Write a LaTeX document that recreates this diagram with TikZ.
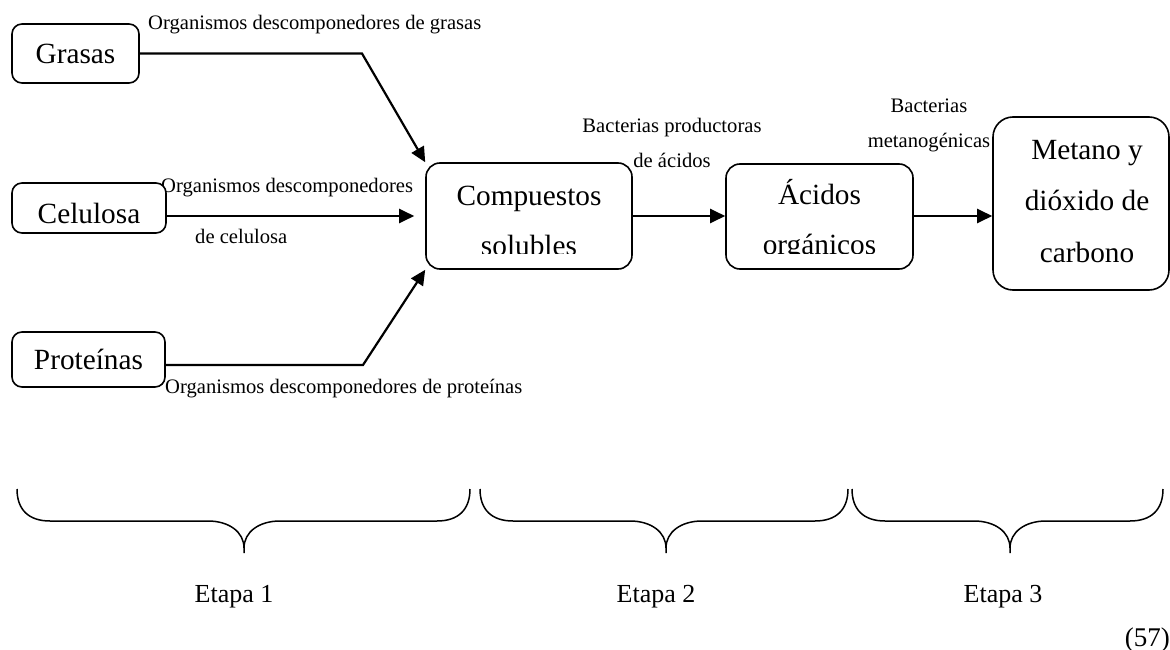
\documentclass[tikz,border=0pt]{standalone}
\usepackage{fontspec}
\setmainfont{Liberation Serif}
\usetikzlibrary{arrows.meta}

\begin{document}
\begin{tikzpicture}[x=1pt, y=-1pt, >={Triangle[length=15pt,width=14pt]},
    caja/.style={draw, fill=white, line width=1.6pt, rounded corners=10pt, inner sep=0pt, font=\fontsize{29.3pt}{50pt}\selectfont},
    textocaja/.style={inner sep=0pt, align=center, font=\fontsize{29.3pt}{50pt}\selectfont},
    etiqueta/.style={inner sep=0pt, align=center, font=\fontsize{20.6pt}{35pt}\selectfont},
    flecha/.style={->, line width=2.2pt},
    llavelinea/.style={line width=1.5pt}]
    \useasboundingbox (0,0) rectangle (1170,650);

    % rotulos de las flechas (debajo de las cajas)
    \node[etiqueta, anchor=base west] (lgrasas) at (148,30) {Organismos descomponedores de grasas};
    \node[etiqueta, anchor=base west] (lcel1) at (161,193) {Organismos descomponedores};
    \node[etiqueta, anchor=base west] (lcel2) at (195,243) {de celulosa};
    \node[etiqueta, anchor=base west] (lprot) at (165,393) {Organismos descomponedores de proteínas};
    \node[etiqueta] (lacid) at (672,142.5) {Bacterias productoras\\de ácidos};
    \node[etiqueta] (lmet) at (929,125) {Bacterias\\metanogénicas};

    % sustratos
    \node[caja, minimum width=127pt, minimum height=59pt] (grasas) at (75.5,53.5) {Grasas};
    \node[caja, minimum width=154pt, minimum height=50pt, text height=30pt, text depth=0pt] (celulosa) at (89,208) {Celulosa};
    \node[caja, minimum width=153pt, minimum height=55pt] (proteinas) at (88.5,359.5) {Proteínas};

    % productos intermedios y final
    \node[caja, rounded corners=14pt, minimum width=206pt, minimum height=106pt] (comp) at (529,216) {};
    \node[caja, rounded corners=14pt, minimum width=187pt, minimum height=105pt] (acidos) at (819.5,216.5) {};
    \node[caja, rounded corners=20pt, minimum width=176pt, minimum height=173pt] (metano) at (1081,203.5) {};

    % texto recortado como en el original
    \begin{scope}
        \clip (426,163) rectangle (632,253);
        \node[textocaja] (comptxt) at (529,221) {Compuestos\\solubles};
    \end{scope}
    \begin{scope}
        \clip (726,164) rectangle (913,253);
        \node[textocaja] (acidostxt) at (819.5,220) {Ácidos\\orgánicos};
    \end{scope}
    \node[textocaja, font=\fontsize{29.3pt}{51.5pt}\selectfont] (metanotxt) at (1087,201.5) {Metano y\\dióxido de\\carbono};

    % flechas
    \draw[flecha] (grasas.east) -- (362,53.5) -- (comp.north west);
    \draw[flecha, shorten >=11pt] (celulosa.east |- comp.west) -- (comp.west);
    \draw[flecha] ([yshift=-5.5pt]proteinas.east) -- (363,365) -- (comp.south west);
    \draw[flecha] (comp.east) -- (acidos.west |- comp.east);
    \draw[flecha] (acidos.east |- comp.east) -- (metano.west |- comp.east);

    % llaves y etapas
    \foreach \a/\m/\b/\e/\n in {17/244/470/234/1, 480/666/848/656/2, 852/1010/1163/1003/3} {
        \draw[llavelinea] (\a,489) .. controls (\a,510) and (\a+12,521) .. (\a+33,521)
            -- (\m-36,521) .. controls (\m-15,521) and (\m,532) .. (\m,548) -- (\m,553);
        \draw[llavelinea] (\m,548) .. controls (\m,532) and (\m+15,521) .. (\m+36,521)
            -- (\b-33,521) .. controls (\b-12,521) and (\b,510) .. (\b,489);
        \node[inner sep=0pt, anchor=base, font=\fontsize{26pt}{30pt}\selectfont] (etapa\n) at (\e,602) {Etapa \n};
    }

    \node[inner sep=0pt, anchor=base east, font=\fontsize{27pt}{30pt}\selectfont] (num) at (1170,646) {(57)};
\end{tikzpicture}
\end{document}
